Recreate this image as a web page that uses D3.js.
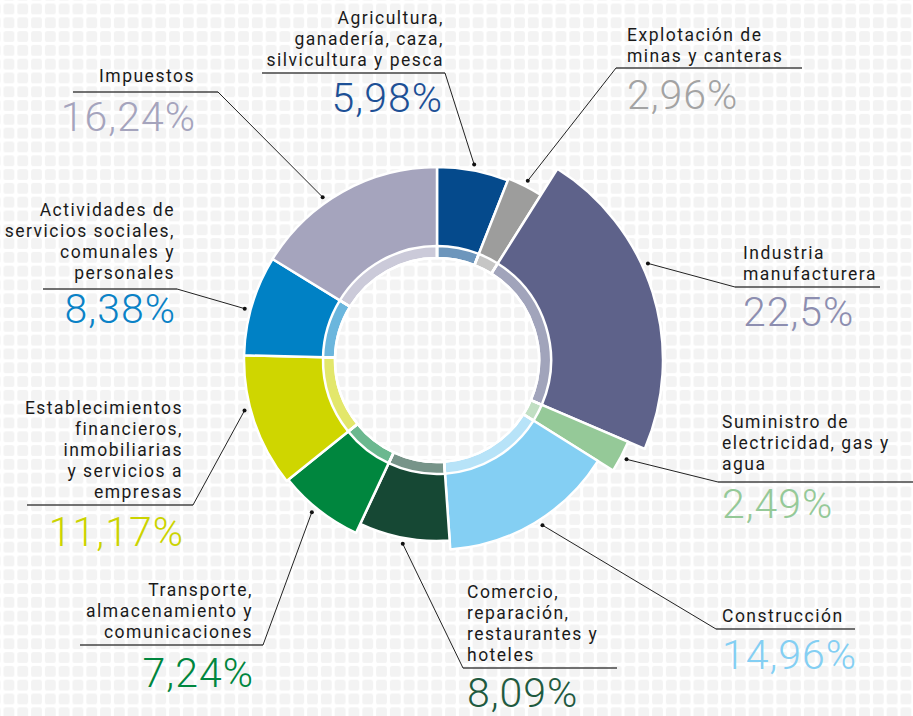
<!DOCTYPE html>
<html lang="es">
<head>
  <meta charset="UTF-8">
  <title>PIB por ramas</title>
</head>
<body>
<style>
  * {
    padding: 0;
    margin: 0;
  }

  body {
    background: #fff;
  }

  #app {
    width: 913px;
    height: 716px;
  }

  .lbl {
    font-family: Roboto, "Open Sans", sans-serif;
    font-size: 17.5px;
    letter-spacing: 1.5px;
    fill: #1a1a1a;
  }

  .pct {
    font-family: Roboto, "Open Sans", sans-serif;
    font-weight: 300;
    font-size: 41px;
    letter-spacing: 1px;
  }
</style>

<div id="app"></div>

<script src="https://cdn.jsdelivr.net/npm/d3@7"></script>
<script>
  // data
  let categories = [
    ["Agricultura,", "ganadería, caza,", "silvicultura y pesca"],
    ["Explotación de", "minas y canteras"],
    ["Industria", "manufacturera"],
    ["Suministro de", "electricidad, gas y", "agua"],
    ["Construcción"],
    ["Comercio,", "reparación,", "restaurantes y", "hoteles"],
    ["Transporte,", "almacenamiento y", "comunicaciones"],
    ["Establecimientos", "financieros,", "inmobiliarias", "y servicios a", "empresas"],
    ["Actividades de", "servicios sociales,", "comunales y", "personales"],
    ["Impuestos"]
  ];
  let shares = [5.98, 2.96, 22.5, 2.49, 14.96, 8.09, 7.24, 11.17, 8.38, 16.24];
  let shareLabels = ["5,98%", "2,96%", "22,5%", "2,49%", "14,96%", "8,09%", "7,24%", "11,17%", "8,38%", "16,24%"];

  // styles
  let colors = ["#054a8c", "#9d9d9c", "#5e628a", "#95c998", "#84cff3", "#164834", "#00863e", "#cfd600", "#0081c5", "#a5a4bd"];
  let textColors = ["#1d5096", "#a3a3a3", "#8d8eb0", "#95c998", "#84cff3", "#1f5a40", "#00863e", "#cbd300", "#0a82c6", "#a5a4bd"];
  let outerR = [193, 195, 226, 208, 190, 181, 191, 193, 193, 193];

  // label layout: anchor, text x, first baseline, underline y, underline x range, joint x, pct x, pct baseline, leader position in slice
  let layout = [
    {a: "end", x: 444, y: 24, uy: 73, u: [262, 445], j: 445, px: 443, py: 112, f: 0.5},
    {a: "start", x: 627, y: 41, uy: 68, u: [616, 802], j: 616, px: 627, py: 109, f: 0.5},
    {a: "start", x: 743, y: 259, uy: 287, u: [735, 880], j: 735, px: 743, py: 326, f: 0.41},
    {a: "start", x: 722, y: 428, uy: 482, u: [718, 913], j: 718, px: 722, py: 518, f: 0.5},
    {a: "start", x: 722, y: 622, uy: 629, u: [716, 855], j: 716, px: 722, py: 669, f: 0.47},
    {a: "start", x: 467, y: 598, uy: 668, u: [463, 617], j: 463, px: 467, py: 707, f: 0.5},
    {a: "end", x: 253, y: 596, uy: 645, u: [80, 263], j: 263, px: 254, py: 687, f: 0.55},
    {a: "end", x: 183, y: 414, uy: 505, u: [27, 193], j: 193, px: 184, py: 546, f: 0.6},
    {a: "end", x: 175, y: 216, uy: 289, u: [43, 177], j: 177, px: 176, py: 323, f: 0.45},
    {a: "end", x: 195, y: 82, uy: 92, u: [73, 218], j: 218, px: 196, py: 131, f: 0.4}
  ];

  let $width = 913, $height = 716, cx = 437, cy = 360, rHole = 102, rRing = 114, lineH = 21;

  let svg = d3.select("#app").append("svg").attr("width", $width).attr("height", $height)

  // tiled background
  let pat = svg.append("defs").append("pattern").attr("id", "grid")
    .attr("patternUnits", "userSpaceOnUse").attr("width", 13.8).attr("height", 13.8)
    .attr("x", 3.5).attr("y", 3.5)
  pat.append("rect").attr("width", 13.8).attr("height", 13.8).attr("fill", "#ffffff")
  pat.append("rect").attr("width", 10.8).attr("height", 10.8).attr("rx", 2.5).attr("fill", "#f3f3f3")
  svg.append("rect").attr("width", $width).attr("height", $height).attr("fill", "url(#grid)")

  let pie = d3.pie().sort(null).value(function (d) { return d })
  let arcs = pie(shares)

  let g = svg.append("g").attr("transform", "translate(" + cx + "," + cy + ")")

  let arc = d3.arc().innerRadius(rHole).outerRadius(function (d) { return outerR[d.index] })
  let ring = d3.arc().innerRadius(rHole).outerRadius(rRing)

  g.selectAll("path.slice").data(arcs).enter().append("path").attr("class", "slice")
    .attr("d", arc).attr("fill", function (d) { return colors[d.index] })
    .attr("stroke", "#fff").attr("stroke-width", 2.5).attr("stroke-linejoin", "round")

  g.selectAll("path.ring").data(arcs).enter().append("path").attr("class", "ring")
    .attr("d", ring).attr("fill", "#fff").attr("fill-opacity", 0.42)
    .attr("stroke", "#fff").attr("stroke-width", 2.5)

  // labels
  function dotPos(d) {
    let L = layout[d.index]
    let ang = d.startAngle + (d.endAngle - d.startAngle) * L.f
    let r = outerR[d.index] + 6
    return [cx + Math.sin(ang) * r, cy - Math.cos(ang) * r]
  }

  let lab = svg.selectAll("g.label").data(arcs).enter().append("g").attr("class", "label")

  lab.append("line")
    .attr("x1", function (d) { return layout[d.index].u[0] })
    .attr("x2", function (d) { return layout[d.index].u[1] })
    .attr("y1", function (d) { return layout[d.index].uy })
    .attr("y2", function (d) { return layout[d.index].uy })
    .attr("stroke", "#444").attr("stroke-width", 1.5)

  lab.append("line")
    .attr("x1", function (d) { return layout[d.index].j })
    .attr("y1", function (d) { return layout[d.index].uy })
    .attr("x2", function (d) { return dotPos(d)[0] })
    .attr("y2", function (d) { return dotPos(d)[1] })
    .attr("stroke", "#222").attr("stroke-width", 1)

  lab.append("circle")
    .attr("cx", function (d) { return dotPos(d)[0] })
    .attr("cy", function (d) { return dotPos(d)[1] })
    .attr("r", 2).attr("fill", "#111")

  lab.each(function (d) {
    let L = layout[d.index]
    let t = d3.select(this).append("text").attr("class", "lbl").attr("text-anchor", L.a)
    categories[d.index].forEach(function (line, k) {
      t.append("tspan").attr("x", L.x).attr("y", L.y + k * lineH).text(line)
    })
  })

  lab.append("text").attr("class", "pct")
    .attr("x", function (d) { return layout[d.index].px })
    .attr("y", function (d) { return layout[d.index].py })
    .attr("text-anchor", function (d) { return layout[d.index].a })
    .attr("fill", function (d) { return textColors[d.index] })
    .text(function (d) { return shareLabels[d.index] })
</script>
</body>
</html>
